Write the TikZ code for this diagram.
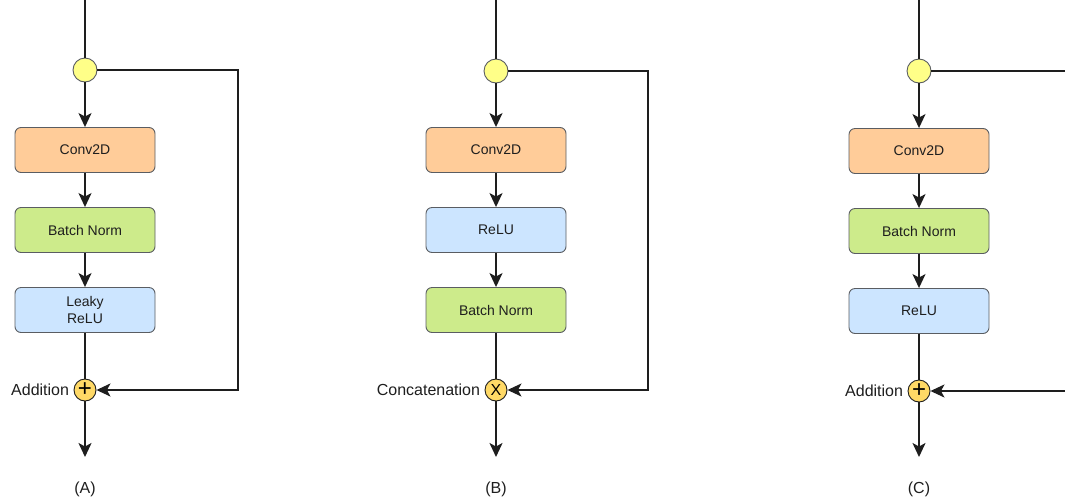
\documentclass[tikz,border=0pt]{standalone}
\usepackage{fontspec}
\setmainfont{Liberation Sans}
\usetikzlibrary{arrows.meta,positioning}

\definecolor{boxline}{HTML}{5A5D62}
\definecolor{wire}{HTML}{1E1E1E}
\definecolor{convfill}{HTML}{FFCC99}
\definecolor{bnfill}{HTML}{CDEB8B}
\definecolor{relufill}{HTML}{CCE5FF}
\definecolor{splitfill}{HTML}{FFFF88}
\definecolor{mergefill}{HTML}{FFD966}

\tikzset{
	layer/.style={draw=boxline, line width=0.9pt, rounded corners=6pt,
		minimum width=140pt, minimum height=45pt, align=center,
		font=\fontsize{14}{16.5}\selectfont, text=wire},
	split/.style={circle, draw=boxline, line width=0.9pt, fill=splitfill,
		minimum size=24pt, inner sep=0pt},
	merge/.style={circle, draw=wire, line width=0.9pt, fill=mergefill,
		minimum size=22pt, inner sep=0pt},
	tag/.style={font=\fontsize{16}{18}\selectfont, text=wire},
	wireline/.style={draw=wire, line width=1.7pt},
	flow/.style={wireline, -{Stealth[length=14pt,width=13pt,inset=3.5pt]}}
}

\begin{document}
\begin{tikzpicture}[x=1pt,y=-1pt]
		\useasboundingbox (0,0) rectangle (1065,499);
		\clip (0,0) rectangle (1065,499);
		
		% (A)
		\coordinate (topa) at (85,0);
		\node[split] (ina) at (85,70) {};
		\node[layer,fill=convfill] (conva) at (85,150) {Conv2D};
		\node[layer,fill=bnfill] (bna) at (85,230) {Batch Norm};
		\node[layer,fill=relufill] (relua) at (85,310) {Leaky\\ReLU};
		\node[merge] (adda) at (85,390) {\fontsize{24}{24}\selectfont +};
		\node[tag,left=1pt of adda] (adda-l) {Addition};
		\coordinate (outa) at (85,457);
		\node[tag] (capa) at (85,489) {(A)};
		
		\draw[wireline] (topa) -- (ina);
		\draw[flow] (ina) -- (conva);
		\draw[flow] (conva) -- (bna);
		\draw[flow] (bna) -- (relua);
		\draw[wireline] (relua) -- (adda);
		\draw[flow] (adda) -- (outa);
		\draw[flow] (ina) -- ++(153,0) |- (adda);
		
		% (B)
		\coordinate (topb) at (496,0);
		\node[split] (inb) at (496,71) {};
		\node[layer,fill=convfill] (convb) at (496,150) {Conv2D};
		\node[layer,fill=relufill] (relub) at (496,230) {ReLU};
		\node[layer,fill=bnfill] (bnb) at (496,310) {Batch Norm};
		\node[merge] (catb) at (496,390) {\fontsize{16}{16}\selectfont X};
		\node[tag,left=1pt of catb] (catb-l) {Concatenation};
		\coordinate (outb) at (496,457);
		\node[tag] (capb) at (496,489) {(B)};
		
		\draw[wireline] (topb) -- (inb);
		\draw[flow] (inb) -- (convb);
		\draw[flow] (convb) -- (relub);
		\draw[flow] (relub) -- (bnb);
		\draw[wireline] (bnb) -- (catb);
		\draw[flow] (catb) -- (outb);
		\draw[flow] (inb) -- ++(152,0) |- (catb);
		
		% (C)
		\coordinate (topc) at (919,0);
		\node[split] (inc) at (919,71) {};
		\node[layer,fill=convfill] (convc) at (919,151) {Conv2D};
		\node[layer,fill=bnfill] (bnc) at (919,231) {Batch Norm};
		\node[layer,fill=relufill] (reluc) at (919,311) {ReLU};
		\node[merge] (addc) at (919,391) {\fontsize{24}{24}\selectfont +};
		\node[tag,left=1pt of addc] (addc-l) {Addition};
		\coordinate (outc) at (919,457);
		\node[tag] (capc) at (919,489) {(C)};
		
		\draw[wireline] (topc) -- (inc);
		\draw[flow] (inc) -- (convc);
		\draw[flow] (convc) -- (bnc);
		\draw[flow] (bnc) -- (reluc);
		\draw[wireline] (reluc) -- (addc);
		\draw[flow] (addc) -- (outc);
		\draw[flow] (inc) -- ++(160,0) |- (addc);
	\end{tikzpicture}
\end{document}
